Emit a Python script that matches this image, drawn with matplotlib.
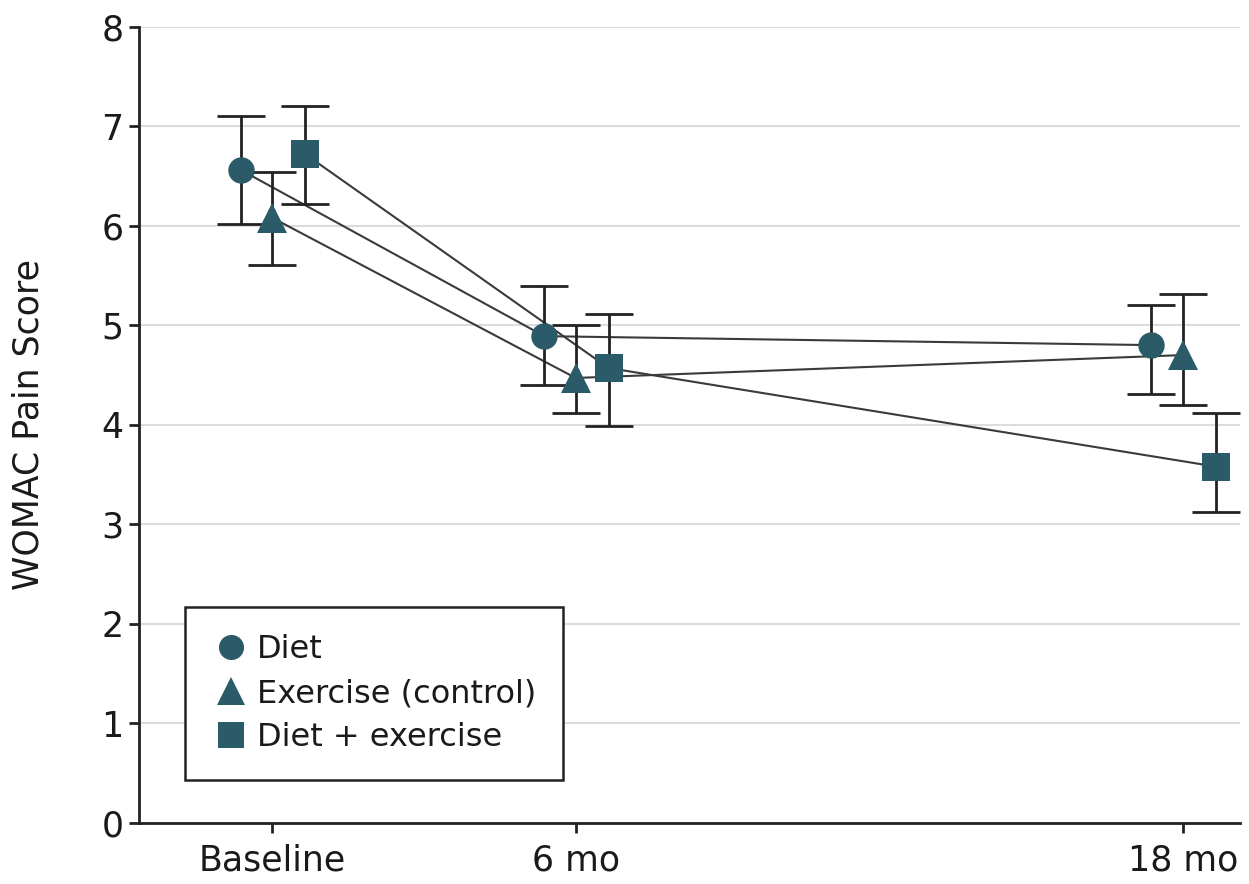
import matplotlib
matplotlib.use("Agg")
import matplotlib.pyplot as plt
import numpy as np

plt.rcParams['font.family'] = ['Liberation Sans Narrow', 'DejaVu Sans']

time_labels = ["Baseline", "6 mo", "18 mo"]
time_months = [0, 6, 18]
groups = ["Diet", "Exercise (control)", "Diet + exercise"]
markers = ["o", "^", "s"]
offsets = [-0.62, 0.0, 0.65]

diet_mean = [6.56, 4.89, 4.80]
diet_lo = [6.02, 4.40, 4.31]
diet_hi = [7.10, 5.39, 5.20]

ex_mean = [6.08, 4.47, 4.70]
ex_lo = [5.60, 4.12, 4.20]
ex_hi = [6.54, 5.00, 5.31]

de_mean = [6.72, 4.57, 3.58]
de_lo = [6.22, 3.99, 3.12]
de_hi = [7.20, 5.11, 4.12]

means = [diet_mean, ex_mean, de_mean]
los = [diet_lo, ex_lo, de_lo]
his = [diet_hi, ex_hi, de_hi]

teal = "#2b5a69"
dark = "#222222"

fig = plt.figure(figsize=(12.49, 8.84), dpi=100)
ax = fig.add_axes([0.1113, 0.069, 0.8815, 0.901])

for g in range(3):
    x = np.array(time_months) + offsets[g]
    m = np.array(means[g])
    lo = np.array(los[g])
    hi = np.array(his[g])
    ax.plot(x, m, color="#3a3a3a", lw=1.5, zorder=2)
    ax.errorbar(x, m, yerr=[m - lo, hi - m], fmt="none", ecolor=dark,
                elinewidth=2.0, capsize=17, capthick=2.0, zorder=3)
    ms = 19 if markers[g] == "o" else (20 if markers[g] == "s" else 21)
    ax.plot(x, m, linestyle="none", marker=markers[g], markersize=ms,
            color=teal, markeredgewidth=0, zorder=4, label=groups[g])

ax.set_xlim(-2.63, 19.13)
ax.set_ylim(0, 8)
ax.set_yticks(range(0, 9))
ax.set_xticks(time_months)
ax.set_xticklabels(time_labels)
ax.yaxis.grid(True, color="#dcdcdc", lw=1.5)
ax.set_axisbelow(True)

for s in ["top", "right"]:
    ax.spines[s].set_visible(False)
for s in ["left", "bottom"]:
    ax.spines[s].set_color(dark)
    ax.spines[s].set_linewidth(2.0)

ax.tick_params(axis="both", direction="out", length=7, width=2.0,
               color=dark, labelsize=25, labelcolor="#1a1a1a")
ax.tick_params(axis="x", pad=8)
ax.tick_params(axis="y", pad=4)

ax.set_ylabel("WOMAC Pain Score", fontsize=25, color="#1a1a1a", labelpad=40)

leg = ax.legend(loc="lower left", bbox_to_anchor=(0.0418, 0.054),
                borderaxespad=0, frameon=True, fancybox=False, framealpha=1,
                fontsize=23, handletextpad=0.2, labelspacing=0.4,
                borderpad=0.85, handlelength=1.2, markerscale=0.95)
leg.get_frame().set_edgecolor(dark)
leg.get_frame().set_linewidth(1.8)
for t in leg.get_texts():
    t.set_color("#1a1a1a")

fig.savefig("out.png", dpi=100)
